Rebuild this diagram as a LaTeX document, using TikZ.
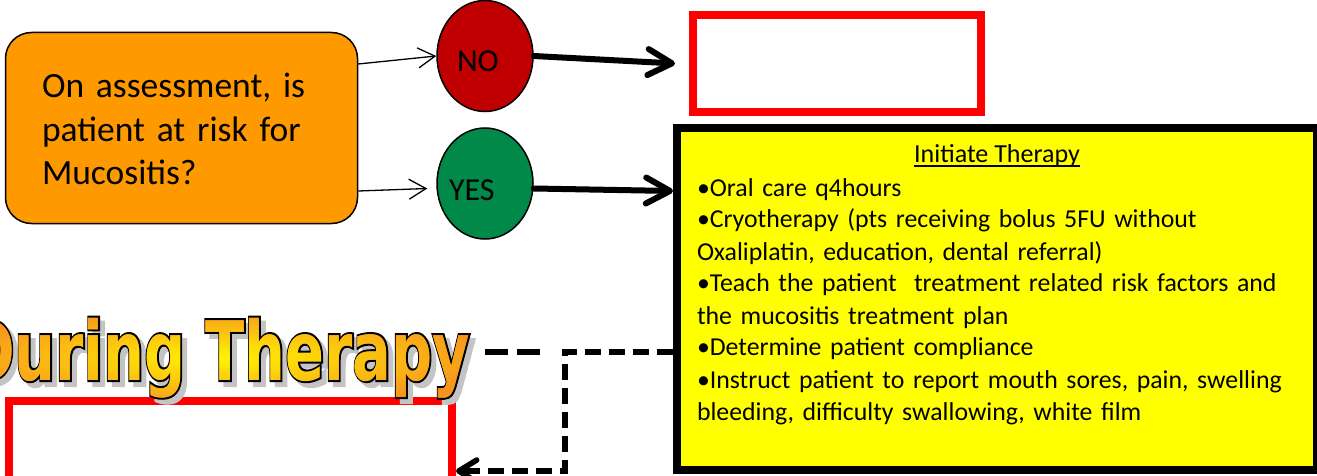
\documentclass[tikz,border=0pt]{standalone}
\usepackage{fontspec}
\setmainfont{Carlito}
\newfontfamily\heavyfont{DejaVu Sans}
\newfontface\heavyoutline{DejaVu Sans Bold}[FakeBold=5]
\usetikzlibrary{shapes.geometric,arrows.meta,fadings}

\definecolor{askorange}{HTML}{FF9900}
\definecolor{nored}{HTML}{C00000}
\definecolor{yesgreen}{RGB}{0,137,73}
\definecolor{alertred}{HTML}{FF0000}
\definecolor{notefill}{HTML}{FFFF00}
\definecolor{bannerorange}{HTML}{F7941E}
\definecolor{banneryellow}{HTML}{FFF500}
\definecolor{bannershadow}{HTML}{C4C4C4}

% heavy condensed banner lettering
\newcommand\bannerword{\scalebox{0.7}[1]{\heavyfont\bfseries\fontsize{82}{90}\selectfont During Therapy}}
\newcommand\bannerrim{\scalebox{0.7}[1]{\heavyoutline\fontsize{82}{90}\selectfont During Therapy}}

\begin{tikzfadingfrompicture}[name=bannerfade]
  \node[inner sep=0pt, text=transparent!0] {\bannerword};
\end{tikzfadingfrompicture}

\begin{document}
\begin{tikzpicture}[x=1pt, y=-1pt,
  askbox/.style={draw=black, line width=1.5pt, fill=askorange, rounded corners=26pt,
    minimum width=352pt, minimum height=191pt, inner sep=0pt},
  answer/.style={ellipse, draw=black, line width=1.5pt, minimum width=96pt,
    minimum height=111pt, inner sep=0pt},
  alertbox/.style={draw=alertred, line width=8pt, inner sep=0pt},
  notebox/.style={draw=black, line width=8pt, fill=notefill, inner sep=0pt},
  plain/.style={inner sep=0pt, outer sep=0pt},
  thinlink/.style={line width=1.3pt, -{Straight Barb[length=17pt,width=20pt]}},
  thicklink/.style={line width=6pt, line cap=round,
    -{Straight Barb[length=24pt,width=26pt,round]}},
  dashlink/.style={line width=5.5pt, dash pattern=on 16pt off 8pt},
  bannerdash/.style={line width=6pt, dash pattern=on 23pt off 9pt},
]
\useasboundingbox (0,0) rectangle (1317,476);

% question box
\node[askbox] (q) at (181.5,128) {};
\node[plain, anchor=north west, text width=310pt, align=left,
  font=\fontsize{35.5}{43.5}\selectfont] (qtext) at (42,67.5)
  {\strut On assessment, is\\patient at risk for\\Mucositis?};

% answers
\node[answer, fill=nored] (no) at (485,56) {};
\node[plain, anchor=base west, font=\fontsize{32}{38}\selectfont] (notext) at (457,72) {NO};
\node[answer, fill=yesgreen] (yes) at (485,183.5) {};
\node[plain, anchor=base west, font=\fontsize{32}{38}\selectfont] (yestext) at (449,200) {YES};

% outcome boxes
\node[alertbox, minimum width=288pt, minimum height=97pt] (redtop) at (837,63.5) {};
\node[notebox, minimum width=640pt, minimum height=342pt] (therapy) at (997,299) {};
\node[alertbox, minimum width=443pt, minimum height=100pt] (redbot) at (230.5,451) {};

% therapy box text
\node[plain, anchor=base, font=\fontsize{26}{32}\selectfont] (title) at (997,163) {Initiate Therapy};
\draw[line width=1.4pt] ([yshift=-3pt]title.base west) -- ([yshift=-3pt]title.base east);
\node[plain, anchor=north west, text width=615pt, align=left,
  font=\fontsize{25.8}{32}\selectfont] (steps) at (697,173.6)
  {\strut •Oral care q4hours\\
   •Cryotherapy (pts receiving bolus 5FU without\\
   Oxaliplatin, education, dental referral)\\
   •Teach the patient\ \ treatment related risk factors and\\
   the mucositis treatment plan\\
   •Determine patient compliance\\
   •Instruct patient to report mouth sores, pain, swelling\\
   bleeding, difficulty swallowing, white film};

% banner: soft shadow, black rim, shaded letters
\node[plain, anchor=base east, text=bannershadow] (shadow) at (475,385) {\bannerrim};
\node[plain, anchor=base east, text=black] (rim) at (470,380) {\bannerrim};
\node[plain, anchor=base east, text=bannerorange] (during) at (470,380) {\bannerword};
\begin{scope}[transform canvas={shift={(during.center)}}]
  \shade[path fading=bannerfade, fit fading=false, inner color=banneryellow,
    outer color=bannerorange] (-280,-50) rectangle (280,50);
\end{scope}

% connectors
\draw[thinlink] (q.east |- 0,64) -- (no.west);
\draw[thinlink] (q.east |- 0,191) -- ([xshift=-9pt, yshift=-5pt]yes.west);
\draw[thicklink] (no.east) -- ([xshift=-14pt]redtop.west);
\draw[thicklink] ([yshift=-5pt]yes.east) -- (therapy.west |- 0,191);

\coordinate (dashend) at (540,352);
\coordinate (bend1) at (565,352);
\coordinate (bend2) at (565,471);
\draw[bannerdash] (during.east |- 0,352) ++(15,0) -- (dashend);
\draw[dashlink, -{Straight Barb[length=18pt,width=22pt,round]}]
  (therapy.west |- 0,352) -- (bend1) -- (bend2) -- (redbot.east |- 0,471);
\end{tikzpicture}
\end{document}
